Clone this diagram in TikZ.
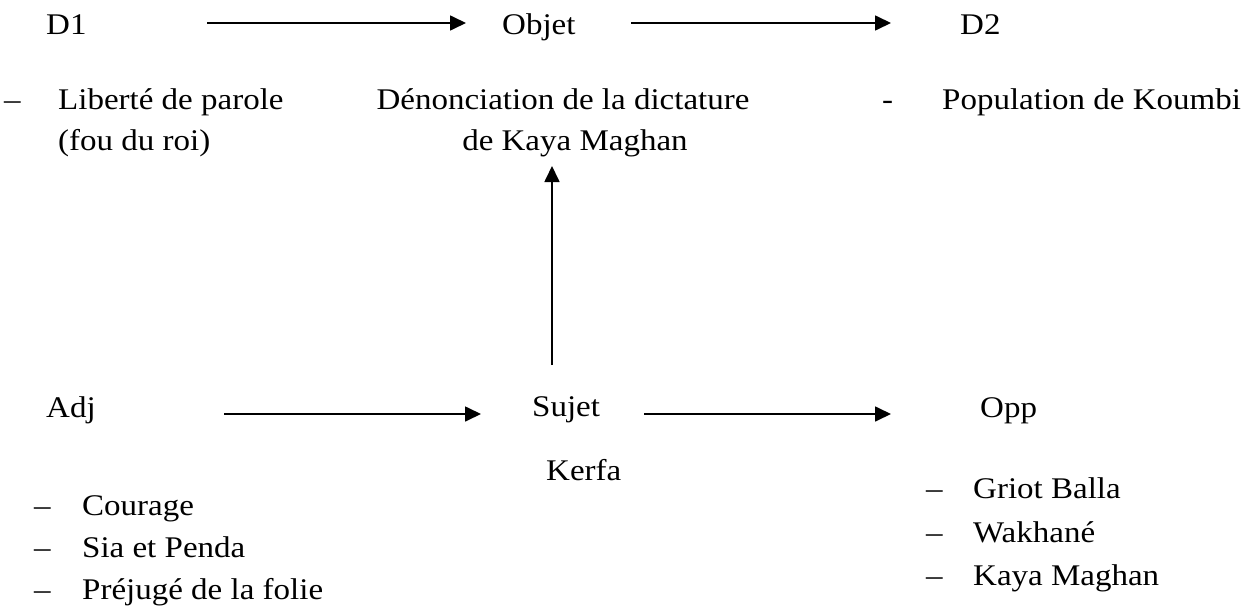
\documentclass[tikz,border=0pt]{standalone}
\usepackage{fontspec}
\setmainfont{Liberation Serif}[FakeStretch=1.1]
\usetikzlibrary{arrows.meta}
\begin{document}
\begin{tikzpicture}[x=1pt,y=-1pt,
  lbl/.style={anchor=base west,inner sep=0pt,font=\fontsize{30}{36}\selectfont},
  clbl/.style={lbl,anchor=base},
  conn/.style={line width=1.7pt,-{Triangle[length=16pt,width=15pt]}}]
\useasboundingbox (0,0) rectangle (1250,610);
% top row
\node[lbl] (d1) at (46,35) {D1};
\node[lbl] (objet) at (502,35) {Objet};
\node[lbl] (d2) at (960,35) {D2};
\coordinate (a1s) at (207,23); \coordinate (a1e) at (466,23);
\coordinate (a2s) at (631,23); \coordinate (a2e) at (891,23);
\draw[conn] (a1s) -- (a1e);
\draw[conn] (a2s) -- (a2e);
% D1 content
\node[lbl] (dash1) at (4,110) {–};
\node[lbl] (lib) at (58,110) {Liberté de parole};
\node[lbl] (fou) at (58,150) {(fou du roi)};
% Objet content
\node[clbl] (denon) at (563,110) {Dénonciation de la dictature};
\node[clbl] (kaya1) at (575,150) {de Kaya Maghan};
% D2 content
\node[lbl] (hy) at (882,110) {-};
\node[lbl] (pop) at (942,110) {Population de Koumbi};
% bottom row
\node[lbl] (adj) at (46,417) {Adj};
\node[lbl] (sujet) at (532,416) {Sujet};
\node[lbl] (opp) at (980,417) {Opp};
\coordinate (a3s) at (224,414); \coordinate (a3e) at (481,414);
\coordinate (a4s) at (644,414); \coordinate (a4e) at (891,414);
\draw[conn] (a3s) -- (a3e);
\draw[conn] (a4s) -- (a4e);
\coordinate (vs) at (552,365); \coordinate (ve) at (552,166);
\draw[conn] (vs) -- (ve);
\node[lbl] (kerfa) at (546,480) {Kerfa};
% Adj list
\node[lbl] (l1d) at (34,515) {–};
\node[lbl] (l1) at (82,515) {Courage};
\node[lbl] (l2d) at (34,557) {–};
\node[lbl] (l2) at (82,557) {Sia et Penda};
\node[lbl] (l3d) at (34,599) {–};
\node[lbl] (l3) at (82,599) {Préjugé de la folie};
% Opp list
\node[lbl] (r1d) at (926,498) {–};
\node[lbl] (r1) at (973,498) {Griot Balla};
\node[lbl] (r2d) at (926,542) {–};
\node[lbl] (r2) at (973,542) {Wakhané};
\node[lbl] (r3d) at (926,585) {–};
\node[lbl] (r3) at (973,585) {Kaya Maghan};
\end{tikzpicture}
\end{document}
